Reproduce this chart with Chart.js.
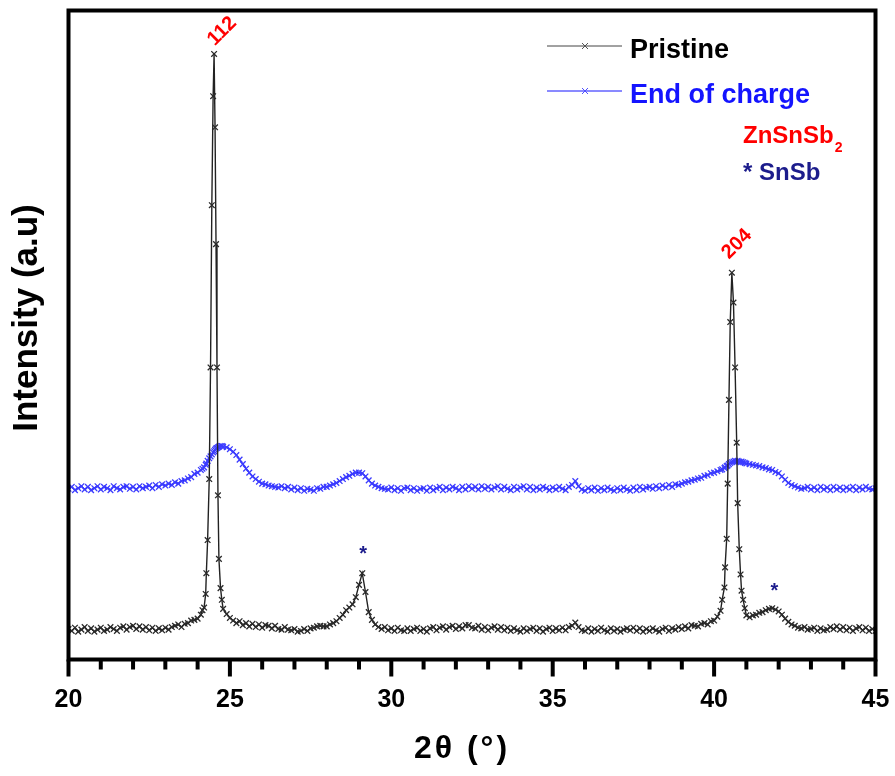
<!DOCTYPE html>
<html>
<head>
<meta charset="utf-8">
<script src="https://cdn.jsdelivr.net/npm/chart.js@4.4.1/dist/chart.umd.min.js"></script>
<style>
  html, body { margin: 0; padding: 0; background: #fff; }
  #wrap { width: 895px; height: 776px; }
</style>
</head>
<body>
<div id="wrap"><canvas id="xrd"></canvas></div>
<script>
// 2theta positions (deg), finer around the two sharp ZnSnSb2 peaks
const twoTheta = [
  20.0,20.1,20.2,20.3,20.4,20.5,20.6,20.7,20.8,20.9,
  21.0,21.1,21.2,21.3,21.4,21.5,21.6,21.7,21.8,21.9,
  22.0,22.1,22.2,22.3,22.4,22.5,22.6,22.7,22.8,22.9,
  23.0,23.1,23.2,23.3,23.4,23.5,23.6,23.7,23.8,23.9,
  24.0,24.1,
  24.15,24.2,24.25,24.27,24.31,24.36,24.4,24.44,24.48,24.51,24.54,24.57,24.6,24.63,24.66,24.71,24.75,24.79,
  24.9,
  25.0,25.1,25.2,25.3,25.4,25.5,25.6,25.7,25.8,25.9,
  26.0,26.1,26.2,26.3,26.4,26.5,26.6,26.7,26.8,26.9,
  27.0,27.1,27.2,27.3,27.4,27.5,27.6,27.7,27.8,27.9,
  28.0,28.1,28.2,28.3,28.4,28.5,28.6,28.7,28.8,28.9,
  29.0,29.1,29.2,29.3,29.4,29.5,29.6,29.7,29.8,29.9,
  30.0,30.1,30.2,30.3,30.4,30.5,30.6,30.7,30.8,30.9,
  31.0,31.1,31.2,31.3,31.4,31.5,31.6,31.7,31.8,31.9,
  32.0,32.1,32.2,32.3,32.4,32.5,32.6,32.7,32.8,32.9,
  33.0,33.1,33.2,33.3,33.4,33.5,33.6,33.7,33.8,33.9,
  34.0,34.1,34.2,34.3,34.4,34.5,34.6,34.7,34.8,34.9,
  35.0,35.1,35.2,35.3,35.4,35.5,35.6,35.7,35.8,35.9,
  36.0,36.1,36.2,36.3,36.4,36.5,36.6,36.7,36.8,36.9,
  37.0,37.1,37.2,37.3,37.4,37.5,37.6,37.7,37.8,37.9,
  38.0,38.1,38.2,38.3,38.4,38.5,38.6,38.7,38.8,38.9,
  39.0,39.1,39.2,39.3,39.4,39.5,39.6,39.7,39.8,39.9,
  40.0,40.1,40.2,
  40.25,40.32,40.34,40.39,40.42,40.46,40.5,40.55,40.6,40.65,40.7,40.73,40.78,40.82,40.85,40.9,40.95,
  41.0,41.1,41.2,41.3,41.4,41.5,41.6,41.7,41.8,41.9,
  42.0,42.1,42.2,42.3,42.4,42.5,42.6,42.7,42.8,42.9,
  43.0,43.1,43.2,43.3,43.4,43.5,43.6,43.7,43.8,43.9,
  44.0,44.1,44.2,44.3,44.4,44.5,44.6,44.7,44.8,44.9,
  45.0
];

const pristine = [
  4.7,4.4,4.9,4.3,4.6,5.0,4.4,4.8,4.3,4.6,
  4.9,4.4,4.6,5.0,4.7,4.4,4.9,5.1,4.6,5.0,
  5.2,4.7,5.1,4.6,5.0,4.5,4.9,4.4,4.8,4.5,
  4.9,4.6,5.0,5.2,5.4,5.0,5.5,5.6,6.0,6.1,
  6.3,6.9,
  7.6,8.0,10.1,13.3,18.4,27.8,45,70,86.8,93.3,82,64,45,25.3,15.5,11.0,9.2,7.8,
  7.0,
  6.4,6.0,5.6,5.9,5.3,5.6,5.1,5.5,5.0,5.4,
  4.9,5.3,5.2,4.8,5.2,4.7,4.6,5.0,4.6,4.5,
  4.7,4.3,4.4,4.7,4.4,4.8,4.9,5.1,5.2,5.1,
  5.1,5.4,5.6,5.9,6.4,6.9,7.6,8.0,8.5,9.6,
  11.5,13.3,10.4,7.3,6.1,5.4,5.0,4.7,5.0,4.5,
  4.8,4.4,4.9,4.5,4.4,4.8,4.4,4.7,4.9,4.4,
  4.7,4.3,4.8,5.0,4.5,4.9,5.1,4.6,5.0,5.2,
  4.7,5.1,4.8,5.3,5.3,4.9,4.8,5.2,4.6,5.0,
  4.5,4.9,5.1,4.6,5.0,4.5,4.9,4.4,4.8,4.5,
  4.3,4.8,4.4,4.7,4.9,4.4,4.8,4.3,4.7,4.9,
  4.4,4.8,4.5,4.9,4.5,5.0,5.2,5.7,5.0,4.5,
  4.4,4.8,4.3,4.7,4.4,4.9,4.5,4.3,4.8,4.4,
  4.7,4.3,4.6,4.8,4.5,4.9,4.4,4.8,4.3,4.7,
  4.4,4.8,4.5,4.3,4.7,4.9,4.4,4.8,4.6,5.0,
  4.7,5.1,4.8,5.3,5.2,5.1,5.5,5.6,5.4,5.9,
  6.0,6.6,7.5,
  9.2,11.1,14.2,18.6,27.1,40,52,59.6,55,45,33.4,24.1,17.0,13.1,10.6,9.2,7.9,
  6.8,6.5,6.8,6.9,7.2,7.3,7.6,7.8,7.9,7.7,
  7.4,6.9,6.3,5.8,5.4,5.2,4.9,4.8,5.0,4.6,
  4.7,4.9,4.4,4.8,4.5,4.6,5.0,4.7,5.1,4.6,
  5.0,4.5,4.9,4.4,4.8,5.0,4.5,4.9,4.4,4.7,
  4.4
];

const endOfCharge = [
  26.3,26.6,26.1,26.4,26.7,26.2,26.6,26.1,26.4,26.7,
  26.2,26.6,26.4,26.1,26.7,26.4,26.2,26.6,26.7,26.3,
  26.6,26.2,26.7,26.4,26.6,26.8,26.4,26.9,26.6,27.0,
  26.8,27.1,26.9,27.3,27.1,27.5,27.6,27.9,28.1,28.6,
  28.8,29.2,
  29.4,29.6,30.0,30.2,30.6,31.0,31.3,31.6,31.9,32.1,32.3,32.5,32.6,32.7,32.8,32.9,32.9,32.8,
  32.7,
  32.4,32.0,31.5,30.8,30.1,29.4,28.8,28.2,27.8,27.4,
  27.1,27.0,26.8,26.7,26.6,26.5,26.7,26.4,26.6,26.2,
  26.5,26.1,26.4,26.0,26.3,26.2,26.0,26.4,26.3,26.6,
  26.6,26.8,27.0,27.2,27.5,27.8,28.1,28.3,28.6,28.8,
  28.8,28.7,28.2,27.6,27.1,26.8,26.6,26.4,26.3,26.2,
  26.5,26.1,26.4,26.0,26.4,26.5,26.1,26.4,26.0,26.3,
  26.4,26.0,26.5,26.1,26.4,26.6,26.1,26.5,26.2,26.6,
  26.4,26.1,26.6,26.2,26.7,26.3,26.6,26.2,26.7,26.3,
  26.6,26.2,26.5,26.7,26.2,26.6,26.3,26.1,26.6,26.2,
  26.5,26.7,26.2,26.6,26.1,26.5,26.2,26.6,26.4,26.1,
  26.5,26.2,26.6,26.3,26.1,26.6,26.9,27.5,26.7,26.2,
  26.0,26.4,26.1,26.5,26.0,26.4,26.1,26.5,26.2,26.0,
  26.4,26.1,26.5,26.2,26.0,26.5,26.1,26.6,26.2,26.5,
  26.6,26.3,26.7,26.4,26.8,26.5,26.9,26.6,27.0,26.9,
  27.1,27.3,27.4,27.6,27.7,27.9,28.0,28.3,28.4,28.7,
  28.8,29.0,29.2,
  29.3,29.5,29.6,29.8,29.9,30.1,30.3,30.4,30.5,30.6,30.5,30.6,30.5,30.4,30.5,30.4,30.3,
  30.2,30.1,30.0,29.9,29.8,29.6,29.5,29.3,29.2,28.9,
  28.7,28.2,27.7,27.2,26.9,26.7,26.5,26.3,26.4,26.6,
  26.2,26.5,26.1,26.6,26.2,26.5,26.1,26.6,26.2,26.5,
  26.1,26.5,26.2,26.6,26.1,26.5,26.2,26.6,26.3,26.2,
  26.4
];

const seriesNames = ['Pristine', 'End of charge'];
const xTickLabels = [20, 25, 30, 35, 40, 45];

// peak indexing, in data coordinates
const peakLabels = [
  { text: '112', x: 24.76, y: 96.8 },
  { text: '204', x: 40.71, y: 64.0 }
];
const snsbMarks = [
  { x: 29.13, y: 16.7 },
  { x: 41.87, y: 11.0 }
];

const FONT = '"Liberation Sans", Arial, sans-serif';
const RED = '#ff0000';
const NAVY = '#1c1c8c';
const BLUE = '#1414ff';

function toPoints(ys) {
  return ys.map((v, i) => ({ x: twoTheta[i], y: v }));
}

function drawCross(ctx, cx, cy, r) {
  ctx.beginPath();
  ctx.moveTo(cx - r, cy - r); ctx.lineTo(cx + r, cy + r);
  ctx.moveTo(cx - r, cy + r); ctx.lineTo(cx + r, cy - r);
  ctx.stroke();
}

const overlay = {
  id: 'overlay',
  afterDraw(chart) {
    const { ctx, chartArea: a, scales: { x, y } } = chart;
    ctx.save();

    // frame
    ctx.strokeStyle = '#000';
    ctx.lineWidth = 4;
    ctx.strokeRect(a.left, a.top, a.right - a.left, a.bottom - a.top);

    // major / minor ticks on the bottom axis
    x.ticks.forEach(t => {
      const px = x.getPixelForValue(t.value);
      const major = t.value % 5 === 0;
      ctx.lineWidth = 4;
      ctx.beginPath();
      ctx.moveTo(px, a.bottom);
      ctx.lineTo(px, a.bottom + (major ? 17 : 10));
      ctx.stroke();
    });

    // axis titles
    ctx.fillStyle = '#000';
    ctx.textAlign = 'center';
    ctx.textBaseline = 'middle';
    ctx.font = 'bold 35px ' + FONT;
    ctx.save();
    ctx.translate(27, 318);
    ctx.rotate(-Math.PI / 2);
    ctx.fillText('Intensity (a.u)', 0, 0);
    ctx.restore();
    ctx.font = 'bold 32px ' + FONT;
    ctx.letterSpacing = '3px';
    ctx.fillText('2θ (°)', 462, 749);
    ctx.letterSpacing = '0px';

    // legend
    const items = [
      { label: seriesNames[0], line: '#444', mark: '#555', text: '#000', y: 46 },
      { label: seriesNames[1], line: BLUE, mark: '#5050ff', text: BLUE, y: 91 }
    ];
    items.forEach(it => {
      ctx.strokeStyle = it.line;
      ctx.lineWidth = 1;
      ctx.beginPath();
      ctx.moveTo(547, it.y); ctx.lineTo(622, it.y);
      ctx.stroke();
      ctx.strokeStyle = it.mark;
      drawCross(ctx, 585, it.y, 3);
      ctx.fillStyle = it.text;
      ctx.font = 'bold 27px ' + FONT;
      ctx.textBaseline = 'alphabetic';
      ctx.textAlign = 'left';
      ctx.fillText(it.label, 630, it.y + 12);
    });

    // phase key
    ctx.fillStyle = RED;
    ctx.font = 'bold 24px ' + FONT;
    ctx.fillText('ZnSnSb', 743, 143);
    const w = ctx.measureText('ZnSnSb').width;
    ctx.font = 'bold 14px ' + FONT;
    ctx.fillText('2', 743 + w + 1, 152);
    ctx.fillStyle = NAVY;
    ctx.font = 'bold 24px ' + FONT;
    ctx.fillText('* SnSb', 743, 180);

    // hkl labels
    ctx.fillStyle = RED;
    ctx.font = 'bold 20px ' + FONT;
    ctx.textAlign = 'center';
    ctx.textBaseline = 'middle';
    peakLabels.forEach(p => {
      ctx.save();
      ctx.translate(x.getPixelForValue(p.x), y.getPixelForValue(p.y));
      ctx.rotate(-Math.PI / 4);
      ctx.fillText(p.text, 0, 0);
      ctx.restore();
    });

    // SnSb asterisks
    ctx.fillStyle = NAVY;
    ctx.font = 'bold 20px ' + FONT;
    ctx.textBaseline = 'alphabetic';
    snsbMarks.forEach(m => {
      ctx.fillText('*', x.getPixelForValue(m.x), y.getPixelForValue(m.y) + 9);
    });

    ctx.restore();
  }
};

new Chart(document.getElementById('xrd'), {
  type: 'line',
  data: {
    datasets: [
      {
        label: seriesNames[0],
        data: toPoints(pristine),
        borderColor: '#222',
        borderWidth: 1.4,
        pointStyle: 'crossRot',
        pointRadius: 4,
        pointBorderWidth: 1.3,
        pointBorderColor: '#2a2a2a',
        tension: 0
      },
      {
        label: seriesNames[1],
        data: toPoints(endOfCharge),
        borderColor: BLUE,
        borderWidth: 1.4,
        pointStyle: 'crossRot',
        pointRadius: 4,
        pointBorderWidth: 1.3,
        pointBorderColor: '#3c3cff',
        tension: 0
      }
    ]
  },
  options: {
    responsive: true,
    maintainAspectRatio: false,
    animation: false,
    events: [],
    layout: { padding: { top: 10.5, right: 19.5, left: 0, bottom: 0 } },
    plugins: {
      legend: { display: false },
      tooltip: { enabled: false }
    },
    scales: {
      x: {
        type: 'linear',
        min: 20,
        max: 45,
        afterFit: s => { s.height = 116.5; s.paddingLeft = 0; s.paddingRight = 0; },
        grid: { display: false, drawTicks: false },
        border: { display: false },
        ticks: {
          stepSize: 1,
          autoSkip: false,
          maxRotation: 0,
          padding: 26,
          color: '#000',
          font: { family: FONT, size: 25, weight: 'bold' },
          callback: v => (xTickLabels.includes(v) ? String(v) : '')
        },
        title: { display: false }
      },
      y: {
        min: 0,
        max: 100,
        afterFit: s => { s.width = 68.5; s.paddingTop = 0; s.paddingBottom = 0; },
        grid: { display: false, drawTicks: false },
        border: { display: false },
        ticks: { display: false },
        title: { display: false }
      }
    }
  },
  plugins: [overlay]
});
</script>
</body>
</html>
